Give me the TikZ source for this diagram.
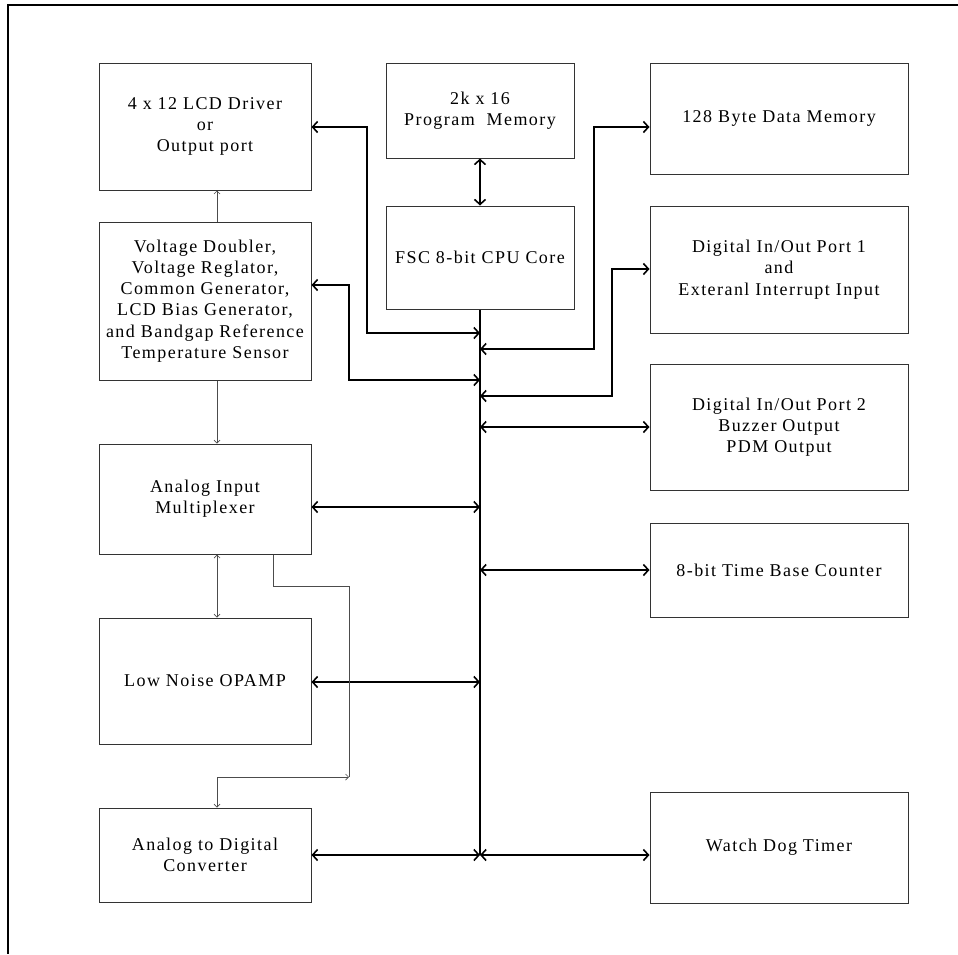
\documentclass[tikz,border=0pt]{standalone}
\usepackage{fontspec}
\setmainfont{Liberation Serif}[LetterSpace=8]
\usetikzlibrary{arrows.meta}
\begin{document}
\begin{tikzpicture}[x=1pt,y=-1pt,
  box/.style={draw=black!80, line width=1pt, rectangle, inner sep=0pt, align=center,
    font=\fontsize{18}{21.3}\selectfont},
  bus/.style={line width=2pt, black, arrows={-}},
  busarr/.style={bus, {Straight Barb[length=5pt,width=11pt,line width=1.6pt]}-{Straight Barb[length=5pt,width=11pt,line width=1.6pt]}},
  thin/.style={line width=1pt, black!70},
  thinto/.style={thin, -{Straight Barb[length=3pt,width=6pt,line width=0.7pt]}},
  thinarr/.style={thin, {Straight Barb[length=3pt,width=6pt,line width=0.7pt]}-{Straight Barb[length=3pt,width=6pt,line width=0.7pt]}}]
\useasboundingbox (0,0) rectangle (958,954);
\draw[line width=2pt] (958,5) -- (8,5) -- (8,954);

% left column
\node[box, minimum width=212pt, minimum height=127pt] (lcd) at (205,126.5) {4 x 12 LCD Driver\\or\\Output port};
\node[box, minimum width=212pt, minimum height=158pt] (volt) at (205,301) {Voltage Doubler,\\Voltage Reglator,\\Common Generator,\\LCD Bias Generator,\\and Bandgap Reference\\Temperature Sensor};
\node[box, minimum width=212pt, minimum height=110pt] (mux) at (205,499) {Analog Input\\Multiplexer};
\node[box, minimum width=212pt, minimum height=126pt] (opamp) at (205,681) {Low Noise OPAMP};
\node[box, minimum width=212pt, minimum height=94pt] (adc) at (205,855) {Analog to Digital\\Converter};
% middle column
\node[box, minimum width=188pt, minimum height=95pt] (pm) at (480,110.5) {2k x 16\\Program\ \ Memory};
\node[box, minimum width=188pt, minimum height=103pt] (cpu) at (480,257.5) {FSC 8-bit CPU Core};
% right column
\node[box, minimum width=258pt, minimum height=111pt] (dm) at (779,118.5) {128 Byte Data Memory};
\node[box, minimum width=258pt, minimum height=127pt] (p1) at (779,269.5) {Digital In/Out Port 1\\and\\Exteranl Interrupt Input};
\node[box, minimum width=258pt, minimum height=126pt] (p2) at (779,427) {Digital In/Out Port 2\\Buzzer Output\\PDM Output};
\node[box, minimum width=258pt, minimum height=94pt] (tb) at (779,570) {8-bit Time Base Counter};
\node[box, minimum width=258pt, minimum height=111pt] (wdt) at (779,847.5) {Watch Dog Timer};

% helper coordinates
\coordinate (busend) at (480,855);
\coordinate (lk1) at (367,127);
\coordinate (lk2) at (367,333);
\coordinate (vk1) at (349,285);
\coordinate (vk2) at (349,380);
\coordinate (dk1) at (594,127);
\coordinate (dk2) at (594,349);
\coordinate (pk1) at (612,269);
\coordinate (pk2) at (612,396);
\coordinate (mk) at (0,507);
\coordinate (ok) at (0,682);
\coordinate (tx) at (217,0);
\coordinate (m1) at (273,586);
\coordinate (m2) at (349,586);
\coordinate (m3) at (349,777);
\coordinate (m4) at (217,777);

% bus
\draw[bus] (cpu.south) -- (busend);
\draw[busarr] (pm.south) -- (cpu.north);
\draw[busarr] (lcd.east |- lk1) -- (lk1) -- (lk2) -- (lk2 -| cpu.south);
\draw[busarr] (volt.east |- vk1) -- (vk1) -- (vk2) -- (vk2 -| cpu.south);
\draw[busarr] (dm.west |- dk1) -- (dk1) -- (dk2) -- (dk2 -| cpu.south);
\draw[busarr] (p1.west |- pk1) -- (pk1) -- (pk2) -- (pk2 -| cpu.south);
\draw[busarr] (p2.west) -- (p2.west -| cpu.south);
\draw[busarr] (tb.west) -- (tb.west -| cpu.south);
\draw[busarr] (mux.east |- mk) -- (mk -| cpu.south);
\draw[busarr] (opamp.east |- ok) -- (ok -| cpu.south);
\draw[busarr] (adc.east) -- (busend);
\draw[busarr] (busend) -- (wdt.west |- busend);

% thin analog chain
\draw[thinto] (volt.north -| tx) -- (lcd.south -| tx);
\draw[thinto] (volt.south -| tx) -- (mux.north -| tx);
\draw[thinarr] (mux.south -| tx) -- (opamp.north -| tx);
\draw[thin] (mux.south -| m1) -- (m1) -- (m2) -- (m3);
\draw[thinarr] (m3) -- (m4) -- (adc.north -| m4);
\end{tikzpicture}
\end{document}
